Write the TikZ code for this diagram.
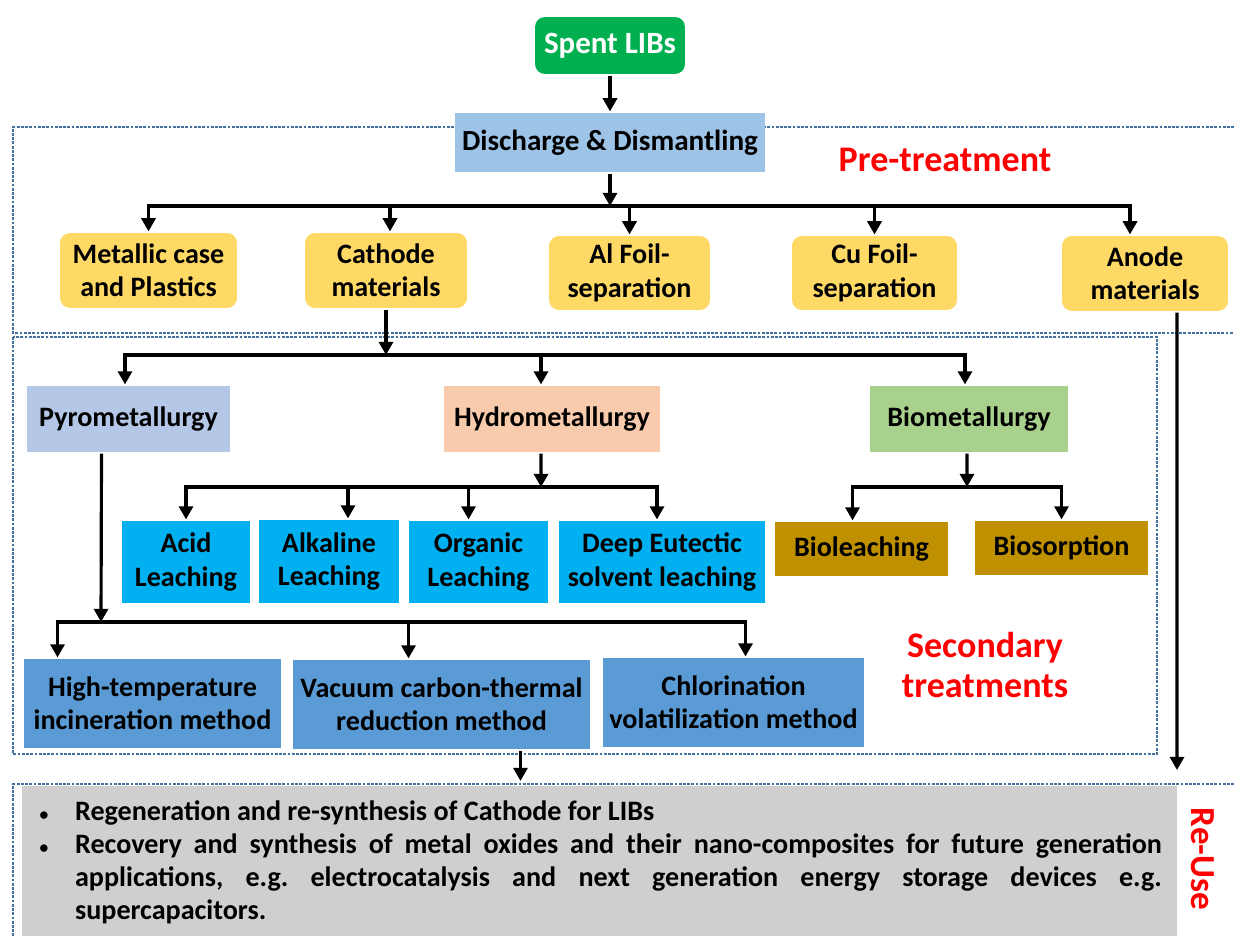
\documentclass[tikz,border=0pt]{standalone}
\usepackage{fontspec}
\setmainfont{Carlito}
\usetikzlibrary{arrows.meta}

\definecolor{spent}{HTML}{00B050}
\definecolor{dis}{HTML}{9DC3E6}
\definecolor{yel}{HTML}{FFD966}
\definecolor{pyro}{HTML}{B4C7E7}
\definecolor{hydro}{HTML}{F8CBAD}
\definecolor{bio}{HTML}{A9D18E}
\definecolor{leach}{HTML}{00B0F0}
\definecolor{biosub}{HTML}{BF9000}
\definecolor{meth}{HTML}{5B9BD5}
\definecolor{gry}{HTML}{D0CECE}
\definecolor{dotc}{HTML}{41719C}

\tikzset{
    blk/.style={font=\bfseries\fontsize{16}{19}\selectfont,align=center,inner sep=0pt},
    rnd/.style={blk,rounded corners=0.2cm},
    hdr/.style={text=red,font=\bfseries\fontsize{20.5}{23.3}\selectfont,align=center},
    frame/.style={draw=dotc,line width=1.2pt,dash pattern=on 1.6pt off 0.8pt},
    wh/.style 2 args={minimum width=#1cm,minimum height=#2cm}
}
\newcommand\bul{\makebox[0.76cm][l]{\hspace{0.05cm}\fontsize{10}{10}\selectfont\textbullet}}

\begin{document}
\begin{tikzpicture}[x=0.02cm,y=-0.02cm,line width=1.8pt,>={Triangle[width=8pt,length=7.5pt]}]
                \useasboundingbox(0,0)rectangle(1234,936);
                \draw[frame](1234,127)-|(13,333)--(1234,333);
                \draw[frame](13,337)rectangle(1157,754);
                \draw[frame](1234,784)-|(13,940);

                \node[rnd,fill=spent,text=white,wh={3.0}{1.14},font=\bfseries\fontsize{17.6}{20}\selectfont](1)at(610,45.5){Spent LIBs};
                \node[blk,fill=dis,wh={6.2}{1.18},font=\bfseries\fontsize{16.6}{19}\selectfont](2)at(610,142.5){Discharge \& Dismantling};
                \node[hdr](21)at(945,160){Pre-treatment};

                \node[rnd,fill=yel,wh={3.54}{1.5}](3)at(148.5,270.5){Metallic case\\and Plastics};
                \node[rnd,fill=yel,wh={3.24}{1.5}](4)at(386,270.5){Cathode\\materials};
                \node[rnd,fill=yel,wh={3.22}{1.48}](5)at(629.5,273){Al Foil-\\separation};
                \node[rnd,fill=yel,wh={3.3}{1.48}](6)at(874.5,273){Cu Foil-\\separation};
                \node[rnd,fill=yel,wh={3.32}{1.5}](7)at(1145,273.5){Anode\\materials};

                \node[blk,fill=pyro,wh={4.06}{1.32}](8)at(128.5,419){Pyrometallurgy};
                \node[blk,fill=hydro,wh={4.32}{1.32}](9)at(552,419){Hydrometallurgy};
                \node[blk,fill=bio,wh={3.96}{1.32}](10)at(969,419){Biometallurgy};

                \node[blk,fill=leach,wh={2.56}{1.64}](11)at(186,562){Acid\\Leaching};
                \node[blk,fill=leach,wh={2.8}{1.66}](12)at(329,561.5){Alkaline\\Leaching};
                \node[blk,fill=leach,wh={2.78}{1.64}](13)at(478.5,562){Organic\\Leaching};
                \node[blk,fill=leach,wh={4.12}{1.64}](14)at(662,562){Deep Eutectic\\solvent leaching};
                \node[blk,fill=biosub,wh={3.46}{1.08}](15)at(861.5,549){Bioleaching};
                \node[blk,fill=biosub,wh={3.46}{1.08}](16)at(1061.5,548){Biosorption};

                \node[blk,fill=meth,wh={5.14}{1.78}](17)at(152.5,703.5){High-temperature\\incineration method};
                \node[blk,fill=meth,wh={5.94}{1.78}](18)at(441.5,704.5){Vacuum carbon-thermal\\reduction method};
                \node[blk,fill=meth,wh={5.22}{1.78}](19)at(733.5,702.5){Chlorination\\volatilization method};
                \node[hdr](22)at(985,665){Secondary\\treatments};

                \node[fill=gry,wh={23.1}{3.04},text width=22.5cm,inner xsep=0.3cm,align=justify,
                    font=\bfseries\fontsize{16}{18.8}\selectfont](20)at(599.5,862){\frenchspacing\parindent=0pt\hyphenpenalty=10000\emergencystretch=2cm
                    \hangindent=0.76cm\bul Regeneration and re-synthesis of Cathode for LIBs\par
                    \hangindent=0.76cm\bul Recovery and synthesis of metal oxides and their nano-composites for future generation applications, e.g. electrocatalysis and next generation energy storage devices e.g. supercapacitors.\par};
                \node[hdr,rotate=-90,font=\bfseries\fontsize{20}{23}\selectfont](23)at(1203,859){Re-Use};

                \coordinate(a)at(610,206);
                \coordinate(b)at(386,355);
                \coordinate(c)at(541,487);
                \coordinate(d)at(967,487);
                \coordinate(e)at(101,622);
                \coordinate(f)at(1177,770);

                \draw[->](1)--(1|-2.north);
                \draw[->](2)--(a);
                \draw[->](a)-|(3);
                \draw[->](a)-|([xshift=0.08cm]4.north);
                \draw[->](a)-|(5);
                \draw[->](a)-|(6);
                \draw[->](a)-|([xshift=-0.3cm]7.north);

                \draw[->](4)--(b);
                \draw[->](b)-|([xshift=-0.07cm]8.north);
                \draw[->](b)-|([xshift=-0.22cm]9.north);
                \draw[->](b)-|([xshift=-0.08cm]10.north);

                \draw[->]([xshift=-0.22cm]9.south)--(c);
                \draw[->](c)-|(11);
                \draw[->](c)-|([xshift=0.38cm]12.north);
                \draw[->](c)-|([xshift=-0.2cm]13.north);
                \draw[->](c)-|([xshift=-0.1cm]14.north);

                \draw[->]([xshift=-0.04cm]10.south)--(d);
                \draw[->](d)-|([xshift=-0.18cm]15.north);
                \draw[->](d)-|(16);

                \draw[->]([xshift=-0.54cm]8.south)--(e);
                \draw[->](e)-|([xshift=-1.9cm]17.north);
                \draw[->](e)-|([xshift=-0.66cm]18.north);
                \draw[->](e)-|([xshift=0.24cm]19.north);

                \draw[->,shorten >=2pt]([xshift=1.58cm]18.south)--([xshift=1.58cm]18.south|-20.north);
                \draw[->]([xshift=0.64cm]7.south)--(f);
            \end{tikzpicture}
\end{document}
